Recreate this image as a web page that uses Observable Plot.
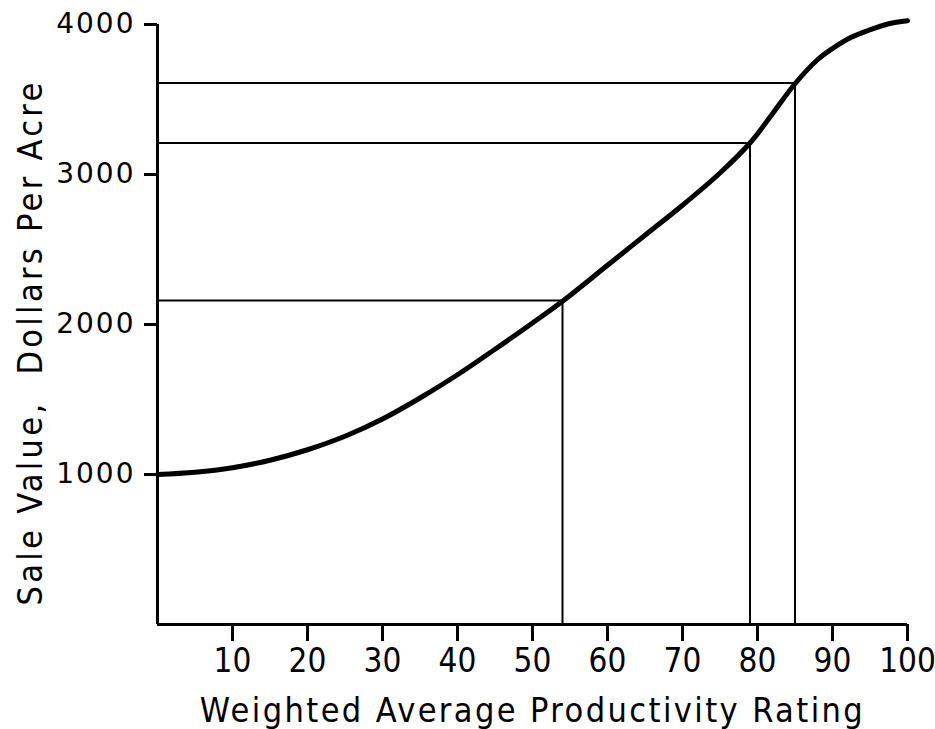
<!DOCTYPE html>
<html>
<head>
<meta charset="utf-8">
<script src="https://cdn.jsdelivr.net/npm/d3@7"></script>
<script src="https://cdn.jsdelivr.net/npm/@observablehq/plot@0.6"></script>
<style>
  html, body { margin: 0; padding: 0; background: #fff; }
  svg { display: block; }
  g[aria-label="x-axis tick label"] text {
    font-family: "DejaVu Sans Condensed", sans-serif;
    font-size: 33px; letter-spacing: 0px;
  }
  g[aria-label="y-axis tick label"] text {
    font-family: "DejaVu Sans", sans-serif;
    font-size: 28px; letter-spacing: 2px;
  }
  g[aria-label="x-axis label"] text {
    font-family: "DejaVu Sans Condensed", sans-serif;
    font-size: 34px; letter-spacing: 2.4px;
  }
  g[aria-label="y-axis label"] text {
    font-family: "DejaVu Sans Condensed", sans-serif;
    font-size: 34px; letter-spacing: 3.3px;
  }
</style>
</head>
<body>
<div id="chart"></div>
<script>
// Curve: productivity rating -> sale value ($/acre)
const curveX = [0, 5, 10, 15, 20, 25, 30, 35, 40, 45, 50, 54, 60, 65, 70, 75, 79, 82, 85, 88, 90, 92.5, 95, 97.5, 100];
const curveY = [1000, 1015, 1045, 1095, 1165, 1255, 1370, 1510, 1665, 1835, 2010, 2155, 2395, 2595, 2795, 3010, 3210, 3405, 3605, 3765, 3840, 3915, 3965, 4005, 4025];

// Reference (drop) lines
const refX = [54, 79, 85];
const refY = [2160, 3210, 3610];

// Tick labels
const xTicks = [10, 20, 30, 40, 50, 60, 70, 80, 90, 100];
const yTicks = [1000, 2000, 3000, 4000];

const xLabel = "Weighted Average Productivity Rating";
const yLabel = "Sale Value,  Dollars Per Acre";

const curve = curveX.map((x, i) => ({x, y: curveY[i]}));
const refs = refX.map((x, i) => ({x, y: refY[i]}));

const chart = Plot.plot({
  width: 935,
  height: 729,
  marginLeft: 157,
  marginRight: 28,
  marginTop: 24,
  marginBottom: 105,
  style: {background: "#fff", color: "#000"},
  x: {domain: [0, 100]},
  y: {domain: [0, 4000]},
  marks: [
    Plot.axisX({
      ticks: xTicks, tickFormat: d => String(d), tickSize: 17, tickPadding: 7, strokeWidth: 3,
      label: xLabel, labelAnchor: "center", labelOffset: 97, labelArrow: "none"
    }),
    Plot.axisY({
      ticks: yTicks, tickFormat: d => String(d), tickSize: 13, tickPadding: 9, strokeWidth: 3,
      label: yLabel, labelAnchor: "center", labelOffset: 140, labelArrow: "none"
    }),
    Plot.ruleY(refs, {y: "y", x1: 0, x2: "x", strokeWidth: 2}),
    Plot.ruleX(refs, {x: "x", y1: 0, y2: "y", strokeWidth: 2}),
    Plot.ruleX([0], {strokeWidth: 3}),
    Plot.ruleY([0], {strokeWidth: 3}),
    Plot.line(curve, {x: "x", y: "y", curve: "catmull-rom", strokeWidth: 5, strokeLinecap: "round"})
  ]
});
document.getElementById("chart").appendChild(chart);

// Shift the rotated y-axis label down to match the reference's placement
d3.select(chart).selectAll('g[aria-label="y-axis label"] text')
  .attr("dx", "-18");
</script>
</body>
</html>
